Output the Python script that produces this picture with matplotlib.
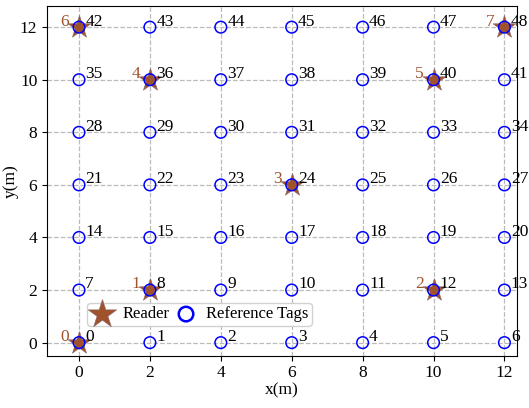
import matplotlib.pyplot as plt

plt.rcParams['font.family'] = ['Liberation Serif', 'DejaVu Serif']
plt.rcParams['mathtext.fontset'] = 'stix'

# reference tag grid (id = row * 7 + col)
tag_x = [0, 2, 4, 6, 8, 10, 12]
tag_y = [0, 2, 4, 6, 8, 10, 12]

# reader positions
reader_x = [0, 2, 10, 6, 2, 10, 0, 12]
reader_y = [0, 2, 2, 6, 10, 10, 12, 12]
reader_ids = [0, 1, 2, 3, 4, 5, 6, 7]

tx = [x for y in tag_y for x in tag_x]
ty = [y for y in tag_y for x in tag_x]
tag_ids = list(range(len(tx)))

fig, ax = plt.subplots(figsize=(5.29, 4.08), dpi=100)
ax.grid(True, linestyle='--', color='#bbbbbb', linewidth=0.9, zorder=0)
ax.set_axisbelow(True)

ax.scatter(reader_x, reader_y, marker='*', s=300, color='#a0522d',
           edgecolors='#8a6a70', linewidths=0.4, label='Reader', zorder=3)
ax.scatter(tx, ty, marker='o', s=70, facecolors='none', edgecolors='blue',
           linewidths=1.1, label='Reference Tags', zorder=4)

for x, y, i in zip(tx, ty, tag_ids):
    ax.text(x + 0.18, y + 0.06, str(i), fontsize=12.5, color='black', zorder=5)
for x, y, i in zip(reader_x, reader_y, reader_ids):
    ax.text(x - 0.28, y + 0.06, str(i), fontsize=12.5, color='#a0522d',
            ha='right', zorder=5)

ax.set_xlim(-0.9, 12.35)
ax.set_ylim(-0.5, 12.8)
ax.set_xticks(tag_x)
ax.set_yticks(tag_y)
ax.tick_params(labelsize=12.5)
ax.set_xlabel('x(m)', fontsize=12.5, labelpad=1)
ax.set_ylabel('y(m)', fontsize=12.5, labelpad=1)

leg = ax.legend(loc='lower left', bbox_to_anchor=(0.068, 0.062), ncol=2,
                fontsize=12, handletextpad=0.5, columnspacing=0.3,
                markerscale=1.25, borderpad=0.2, handlelength=1.4,
                framealpha=0.9)
leg.legend_handles[1].set_linewidth(1.8)

fig.subplots_adjust(left=0.089, right=0.977, top=0.985, bottom=0.128)
fig.savefig('out.png', dpi=100)
